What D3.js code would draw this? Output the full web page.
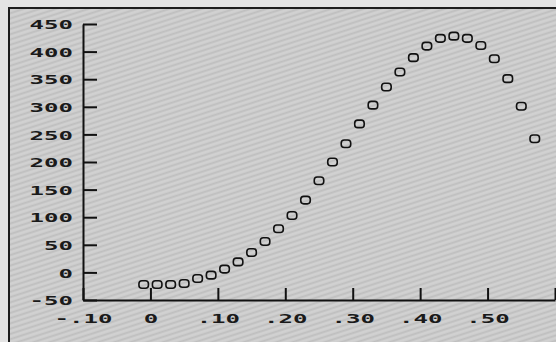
<!DOCTYPE html>
<html><head><meta charset="utf-8">
<script src="https://cdn.jsdelivr.net/npm/d3@7"></script>
<style>html,body{margin:0;padding:0;background:#e6e6e6;}svg{display:block;}</style>
</head><body>
<script>
const xValues = [-0.01,0.01,0.03,0.05,0.07,0.09,0.11,0.13,0.15,0.17,0.19,0.21,0.23,0.25,0.27,0.29,0.31,0.33,0.35,0.37,0.39,0.41,0.43,0.45,0.47,0.49,0.51,0.53,0.55,0.57];
const yValues = [-22,-22,-22,-20,-11,-5,6,19,36,56,79,103,131,166,200,233,269,303,336,363,389,410,424,428,424,411,387,351,301,242];
const xTicks = [-0.1,0,0.1,0.2,0.3,0.4,0.5,0.6];
const xTickLabels = ["-.10","0",".10",".20",".30",".40",".50",""];
const yTicks = [-50,0,50,100,150,200,250,300,350,400,450];
const yTickLabels = ["-50","0","50","100","150","200","250","300","350","400","450"];

const W = 556, H = 342;
const svg = d3.select("body").append("svg").attr("width", W).attr("height", H);

const defs = svg.append("defs");
const pat = defs.append("pattern").attr("id","hatch").attr("patternUnits","userSpaceOnUse")
  .attr("width",5).attr("height",5).attr("patternTransform","rotate(-18)");
pat.append("rect").attr("width",5).attr("height",5).attr("fill","#cccccc");
pat.append("rect").attr("y",0).attr("width",5).attr("height",1.5).attr("fill","#bfbfbf");
pat.append("rect").attr("y",2.5).attr("width",5).attr("height",1).attr("fill","#d6d6d6");

svg.append("rect").attr("width",W).attr("height",H).attr("fill","#e4e4e4");
svg.append("rect").attr("x",9).attr("y",8).attr("width",W-9).attr("height",H-8).attr("fill","url(#hatch)");
svg.append("path").attr("d",`M9,${H} L9,8 L${W},8`).attr("fill","none").attr("stroke","#1e1e1e").attr("stroke-width",2);

const x = d3.scaleLinear().domain([-0.1,0.6]).range([83,555]);
const y = d3.scaleLinear().domain([-50,450]).range([300,24]);

const FONT = "'DejaVu Sans Mono', monospace";
const SX = 1.85;

const gy = svg.append("g").attr("transform","translate(83,0)")
  .call(d3.axisLeft(y).tickValues(yTicks).tickFormat((d,i)=>yTickLabels[i]).tickSizeInner(-14).tickSizeOuter(0).tickPadding(10));
const gx = svg.append("g").attr("transform","translate(0,300)")
  .call(d3.axisBottom(x).tickValues(xTicks).tickFormat((d,i)=>xTickLabels[i]).tickSizeInner(-12).tickSizeOuter(0).tickPadding(13.5));

[gy,gx].forEach(g=>{
  g.select(".domain").attr("stroke","#111").attr("stroke-width",2);
  g.selectAll(".tick line").attr("stroke","#111").attr("stroke-width",2);
  g.selectAll(".tick text")
    .attr("fill","#1a1a1a").attr("font-family",FONT).attr("font-size",13).attr("font-weight","bold")
    .attr("transform",`scale(${SX},1)`);
});
gy.selectAll(".tick text").attr("x",-10/SX).attr("dy","0.36em");
gx.selectAll(".tick text").attr("dy","0.71em");

svg.append("g").selectAll("rect.pt").data(xValues).join("rect").attr("class","pt")
  .attr("x",(d)=>x(d)-4.75).attr("y",(d,i)=>y(yValues[i])-3.75)
  .attr("width",9.5).attr("height",7.5).attr("rx",3).attr("ry",3)
  .attr("fill","none").attr("stroke","#111").attr("stroke-width",1.6);
</script>
</body></html>
